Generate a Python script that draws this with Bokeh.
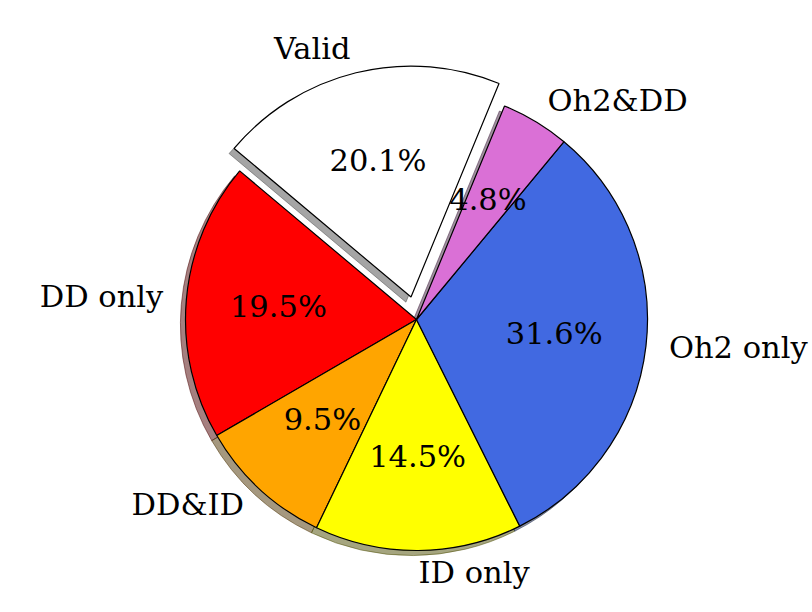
import math
from bokeh.plotting import figure
from bokeh.models import ColumnDataSource, Range1d
from bokeh.core.properties import value
from bokeh.embed import file_html
from bokeh.resources import INLINE

# ---- data ----
labels = ["Valid", "DD only", "DD&ID", "ID only", "Oh2 only", "Oh2&DD"]
percents = [20.1, 19.5, 9.5, 14.5, 31.6, 4.8]
colors = ["#FFFFFF", "#FF0000", "#FFA500", "#FFFF00", "#4169E1", "#DA70D6"]
explode = [0.1, 0, 0, 0, 0, 0]

START_DEG = 67.6
W, H = 812, 612
R_PX = 231.0
CX, CY = 416.0, 319.0  # pie centre in plot pixels from top-left

p = figure(width=W, height=H, output_backend="svg", toolbar_location=None,
           x_range=Range1d(-CX / R_PX, (W - CX) / R_PX),
           y_range=Range1d(-(H - CY) / R_PX, CY / R_PX),
           min_border=0)
p.axis.visible = False
p.grid.visible = False
p.outline_line_color = None
p.background_fill_color = "white"
p.border_fill_color = "white"

def darken(hexc, f=0.3):
    r = int(hexc[1:3], 16); g = int(hexc[3:5], 16); b = int(hexc[5:7], 16)
    return "#%02x%02x%02x" % (int(r * f), int(g * f), int(b * f))

total = sum(percents)
xs, ys, sa, ea, mids = [], [], [], [], []
a = math.radians(START_DEG)
for v, e in zip(percents, explode):
    span = 2 * math.pi * v / total
    m = a + span / 2
    xs.append(e * math.cos(m)); ys.append(e * math.sin(m))
    sa.append(a); ea.append(a + span); mids.append(m)
    a += span

SH = 0.022
shadow = ColumnDataSource(dict(x=[x - SH for x in xs], y=[y - SH for y in ys],
                               s=sa, e=ea, c=[darken(c) for c in colors]))
p.wedge(x="x", y="y", radius=1.0, start_angle="s", end_angle="e", source=shadow,
        fill_color="c", fill_alpha=0.5, line_color="c", line_alpha=0.5, line_width=1)

src = ColumnDataSource(dict(x=xs, y=ys, s=sa, e=ea, c=colors))
p.wedge(x="x", y="y", radius=1.0, start_angle="s", end_angle="e", source=src,
        fill_color="c", line_color="black", line_width=1.2)

# labels
lx, ly, lal, px, py, ptxt = [], [], [], [], [], []
for i, m in enumerate(mids):
    cx, cy = math.cos(m), math.sin(m)
    lx.append(xs[i] + 1.1 * cx); ly.append(ys[i] + 1.1 * cy)
    lal.append("left" if cx > 0 else "right")
    px.append(xs[i] + 0.6 * cx); py.append(ys[i] + 0.6 * cy)
    ptxt.append("%.1f%%" % percents[i])

lsrc = ColumnDataSource(dict(x=lx, y=ly, t=labels, al=lal))
p.text(x="x", y="y", text="t", text_align="al", text_baseline="middle", source=lsrc,
       text_font=value("DejaVu Serif"), text_font_size="30.5px", text_color="black",
       y_offset=-1.5)
psrc = ColumnDataSource(dict(x=px, y=py, t=ptxt))
p.text(x="x", y="y", text="t", text_align="center", text_baseline="middle", source=psrc,
       text_font=value("DejaVu Serif"), text_font_size="30.5px", text_color="black",
       y_offset=-1.5)

open("out.html", "w").write(file_html(p, INLINE))
